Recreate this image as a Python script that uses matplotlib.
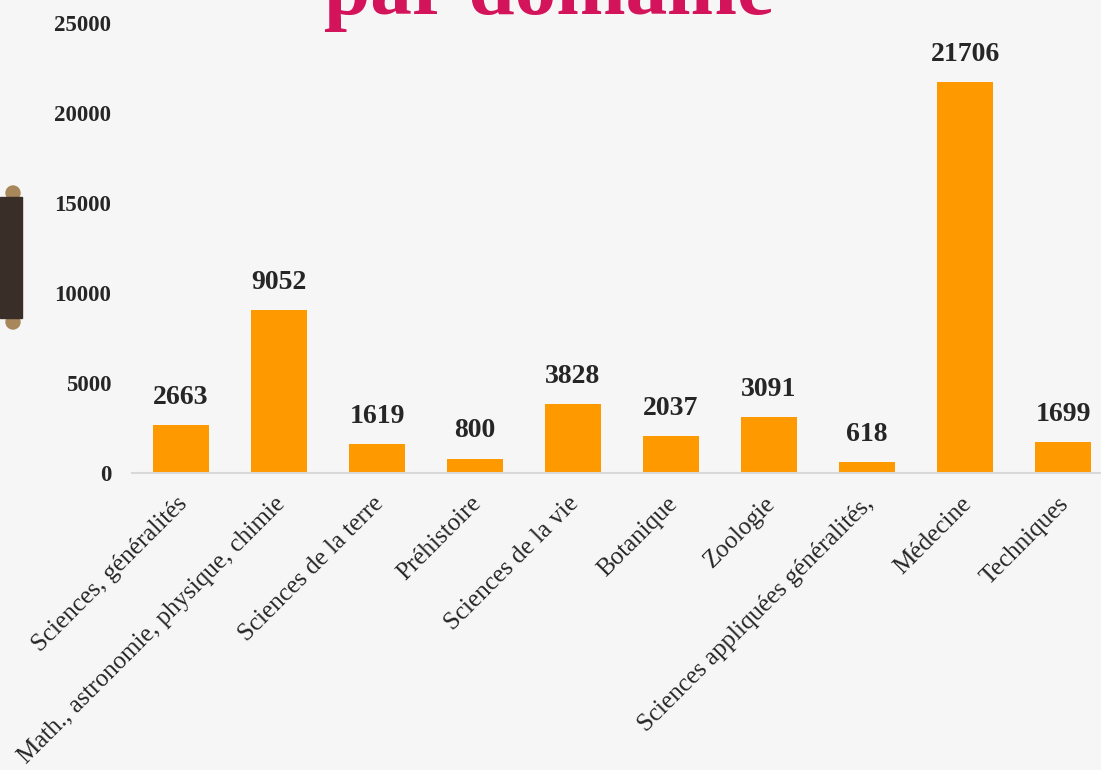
import matplotlib.pyplot as plt
from matplotlib.patches import Rectangle, Ellipse
from matplotlib.transforms import ScaledTranslation

plt.rcParams['font.family'] = ['Liberation Serif', 'DejaVu Serif']

categories = [
    'Sciences, généralités',
    'Math., astronomie, physique, chimie',
    'Sciences de la terre',
    'Préhistoire',
    'Sciences de la vie',
    'Botanique',
    'Zoologie',
    'Sciences appliquées généralités,',
    'Médecine',
    'Techniques',
]
values = [2663, 9052, 1619, 800, 3828, 2037, 3091, 618, 21706, 1699]
y_ticks = [0, 5000, 10000, 15000, 20000, 25000]

BG = '#f6f6f6'
BAR = '#ff9900'
TXT = '#262626'
TITLE = '#d4145a'

W, H = 1101, 770
fig = plt.figure(figsize=(W / 100, H / 100), dpi=100, facecolor=BG)

# axes run past the right edge, like the cropped slide
ax = fig.add_axes([132 / W, 1 - 473 / H, 980 / W, 450 / H])
ax.set_facecolor('none')

x = list(range(len(categories)))
ax.bar(x, values, width=0.57, color=BAR, zorder=2)
ax.set_xlim(-0.5, len(categories) - 0.5)
ax.set_ylim(0, 25000)

for xi, v in zip(x, values):
    ax.annotate(str(v), (xi, v), xytext=(0, 11), textcoords='offset points',
                ha='center', va='bottom', fontsize=20, fontweight='bold', color=TXT)

ax.set_yticks(y_ticks)
ax.set_yticklabels([str(t) for t in y_ticks], fontsize=16.5, fontweight='bold', color=TXT)
ax.set_xticks(x)
ax.set_xticklabels(categories, rotation=45, ha='right', rotation_mode='anchor',
                   fontsize=18, color=TXT)
ax.tick_params(axis='y', length=0, pad=15)
ax.tick_params(axis='x', length=0, pad=14)

# nudge the slanted labels a little to the left
shift = ScaledTranslation(-5 / 100, 0, fig.dpi_scale_trans)
for lbl in ax.get_xticklabels():
    lbl.set_transform(lbl.get_transform() + shift)

for side in ['top', 'right', 'left']:
    ax.spines[side].set_visible(False)
ax.spines['bottom'].set_color('#d9d9d9')
ax.spines['bottom'].set_linewidth(1.5)

# title, mostly cut off by the top edge (as in the slide)
fig.text(549 / W, 1 - 14 / H, 'par domaine', ha='center', va='baseline',
         fontsize=60, fontweight='bold', color=TITLE)

# dark scroll decoration on the left edge
fig.patches.append(Rectangle((0, 1 - 318 / H), 22 / W, 121 / H,
                             transform=fig.transFigure, color='#3a2f28', zorder=2))
for yy in [193, 322]:
    fig.patches.append(Ellipse((13 / W, 1 - yy / H), 14 / W, 14 / H,
                               transform=fig.transFigure, color='#a8875a', zorder=1))

fig.savefig('out.png', dpi=100, facecolor=BG)
